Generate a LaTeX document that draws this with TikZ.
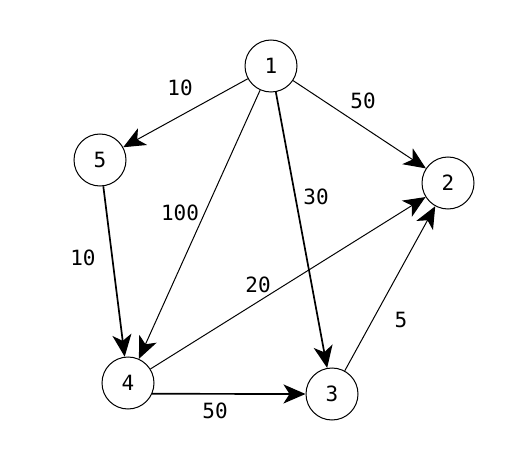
\documentclass[tikz,border=0pt]{standalone}
\usepackage{fontspec}
\setmonofont{DejaVu Sans Mono}
\usetikzlibrary{arrows.meta}
\begin{document}
\begin{tikzpicture}[x=1pt,y=-1pt,
  vert/.style={circle,draw,line width=1pt,minimum size=52pt,inner sep=0pt,font=\ttfamily\fontsize{21}{21}\selectfont},
  wlabel/.style={font=\ttfamily\fontsize{21}{21}\selectfont,inner sep=0pt},
  arc/.style={line width=1pt,-{Stealth[length=22pt,width=19pt,inset=6pt]}},
  thick arc/.style={arc,line width=1.7pt}]
\useasboundingbox (0,0) rectangle (514,476);
\node[vert] (n1) at (271,66) {1};
\node[vert] (n5) at (100,160) {5};
\node[vert] (n2) at (448,183) {2};
\node[vert] (n4) at (128,383) {4};
\node[vert] (n3) at (332,394) {3};
\draw[arc] (n1) -- (n5);
\draw[arc] (n1) -- (n2);
\draw[arc] (n1) -- (n4);
\draw[thick arc] (n1) -- (n3);
\draw[thick arc] (n5) -- (n4);
\draw[arc] (n4) -- (n2);
\draw[thick arc] (n4.-24) -- (n3.west);
\draw[arc] (n3) -- (n2);
\node[wlabel] (l15) at (180,88) {10};
\node[wlabel] (l12) at (363,101) {50};
\node[wlabel] (l14) at (180,213) {100};
\node[wlabel] (l13) at (316,197) {30};
\node[wlabel] (l54) at (83,258) {10};
\node[wlabel] (l42) at (258,285) {20};
\node[wlabel] (l32) at (401,320) {5};
\node[wlabel] (l43) at (215,411) {50};
\end{tikzpicture}
\end{document}
